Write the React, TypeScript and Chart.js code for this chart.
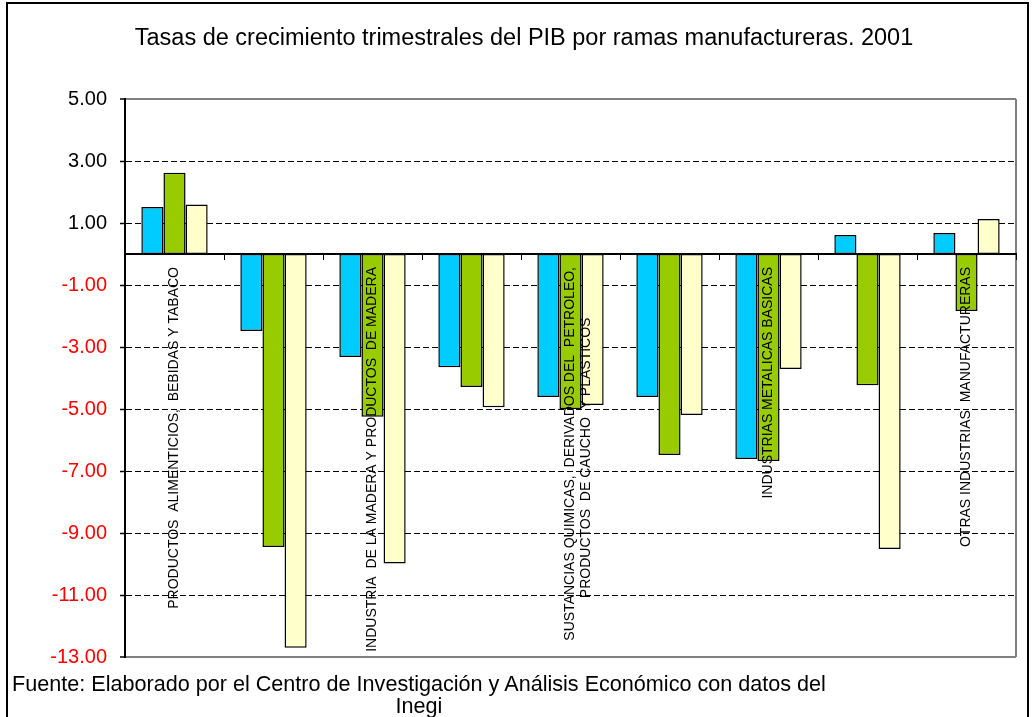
import React, { useEffect, useRef } from 'react';
import { Chart, registerables } from 'chart.js';

Chart.register(...registerables);

const FONT = "'Liberation Sans', Arial, Helvetica, sans-serif";

const titleText = 'Tasas de crecimiento trimestrales del PIB por ramas manufactureras. 2001';
const footerLine1 = 'Fuente: Elaborado por el Centro de Investigación y Análisis Económico con datos del';
const footerLine2 = 'Inegi';

const categories = [
  'PRODUCTOS ALIMENTICIOS, BEBIDAS Y TABACO',
  'TEXTILES, PRENDAS DE VESTIR E INDUSTRIA DEL CUERO',
  'INDUSTRIA DE LA MADERA Y PRODUCTOS DE MADERA',
  'PAPEL, PRODUCTOS DE PAPEL, IMPRENTAS Y EDITORIALES',
  'SUSTANCIAS QUIMICAS, DERIVADOS DEL PETROLEO, PRODUCTOS DE CAUCHO Y PLASTICOS',
  'PRODUCTOS DE MINERALES NO METALICOS',
  'INDUSTRIAS METALICAS BASICAS',
  'PRODUCTOS METALICOS, MAQUINARIA Y EQUIPO',
  'OTRAS INDUSTRIAS MANUFACTURERAS',
];

// Labels shown on the axis (every other category is skipped, as in the original)
const tickLabels: (string | string[])[] = [
  'PRODUCTOS  ALIMENTICIOS,  BEBIDAS Y TABACO',
  '',
  'INDUSTRIA  DE LA MADERA Y PRODUCTOS  DE MADERA',
  '',
  ['SUSTANCIAS QUIMICAS,  DERIVADOS DEL  PETROLEO,', 'PRODUCTOS  DE CAUCHO  Y PLASTICOS             '],
  '',
  'INDUSTRIAS METALICAS BASICAS',
  '',
  'OTRAS INDUSTRIAS  MANUFACTURERAS',
];

const seriesNames = ['I Trimestre', 'II Trimestre', 'III Trimestre'];
const seriesColors = ['#00CCFF', '#99CC00', '#FFFFCC'];

const q1 = [1.52, -2.48, -3.32, -3.65, -4.61, -4.61, -6.61, 0.61, 0.68];
const q2 = [2.62, -9.45, -5.25, -4.29, -5.0, -6.48, -6.68, -4.23, -1.84];
const q3 = [1.6, -12.7, -9.98, -4.94, -4.87, -5.19, -3.71, -9.52, 1.13];

const yMin = -13;
const yMax = 5;
const yStep = 2;

const plotFrame = {
  id: 'plotFrame',
  beforeDatasetsDraw(chart: any) {
    const { ctx, chartArea: a } = chart;
    ctx.save();
    ctx.strokeStyle = '#808080';
    ctx.lineWidth = 2;
    ctx.beginPath();
    ctx.moveTo(a.right, a.top);
    ctx.lineTo(a.right, a.bottom);
    ctx.stroke();
    ctx.restore();
  },
};

export default function App() {
  const ref = useRef<HTMLCanvasElement | null>(null);

  useEffect(() => {
    if (!ref.current) return;
    Chart.defaults.font.family = FONT;
    const series = [q1, q2, q3];
    const chart = new Chart(ref.current, {
      type: 'bar',
      data: {
        labels: categories,
        datasets: series.map((d, i) => ({
          label: seriesNames[i],
          data: d,
          backgroundColor: seriesColors[i],
          borderColor: '#000000',
          borderWidth: 1.5,
          borderSkipped: false,
          categoryPercentage: 0.67,
          barPercentage: 1.0,
        })),
      },
      options: {
        responsive: false,
        animation: false,
        layout: { padding: { left: 32, right: 16, top: 0, bottom: 60 } },
        plugins: {
          legend: { display: false },
          tooltip: { enabled: false },
          title: {
            display: true,
            text: titleText,
            color: '#000000',
            font: { size: 23.5, weight: 'normal', family: FONT, lineHeight: 1.2 },
            padding: { top: 24, bottom: 46.8 },
          },
        },
        scales: {
          x: {
            position: { y: 0 } as any,
            grid: {
              display: true,
              drawOnChartArea: false,
              drawTicks: true,
              tickLength: 5,
              color: '#000000',
              tickColor: '#000000',
              offset: true,
              z: 1,
            },
            border: { display: true, color: '#000000', width: 2, z: 1 },
            ticks: {
              autoSkip: false,
              minRotation: 90,
              maxRotation: 90,
              padding: 8,
              z: 1,
              color: '#000000',
              font: { size: 14, family: FONT, lineHeight: 1.15 },
              callback: (_v: any, i: number) => tickLabels[i],
            },
          },
          y: {
            min: yMin,
            max: yMax,
            afterFit: (scale: any) => {
              scale.width = 93;
            },
            grid: {
              display: true,
              drawTicks: true,
              tickLength: 5,
              tickColor: '#000000',
              tickWidth: 1.5,
              color: (ctx: any) =>
                ctx.tick && (ctx.tick.value === yMax || ctx.tick.value === yMin) ? '#808080' : '#000000',
              lineWidth: (ctx: any) =>
                ctx.tick && (ctx.tick.value === yMax || ctx.tick.value === yMin) ? 2 : 1,
            },
            border: {
              display: true,
              color: '#000000',
              width: 2,
              dash: (ctx: any) =>
                ctx.tick && (ctx.tick.value === yMax || ctx.tick.value === yMin) ? [] : [6, 3],
            } as any,
            ticks: {
              stepSize: yStep,
              padding: 13,
              color: (ctx: any) => (ctx.tick && ctx.tick.value < 0 ? '#FF0000' : '#000000'),
              font: { size: 20, family: FONT },
              callback: (v: any) => Number(v).toFixed(2),
            },
          },
        },
      },
      plugins: [plotFrame],
    } as any);
    return () => chart.destroy();
  }, []);

  return (
    <div style={{ position: 'absolute', left: 0, top: 0, width: 1032, height: 717, overflow: 'hidden', background: '#fff' }}>
      <canvas ref={ref} width={1032} height={717} style={{ position: 'absolute', left: 0, top: 0 }} />
      <div
        style={{
          position: 'absolute',
          left: 6,
          top: 2,
          width: 1023,
          height: 715,
          boxSizing: 'border-box',
          borderTop: '2px solid #000',
          borderLeft: '2px solid #000',
          borderRight: '2px solid #000',
          pointerEvents: 'none',
        }}
      />
      <div
        style={{
          position: 'absolute',
          left: 0,
          top: 673,
          width: 838,
          textAlign: 'center',
          fontFamily: FONT,
          fontSize: 21.6,
          lineHeight: '22px',
          color: '#000',
          whiteSpace: 'nowrap',
        }}
      >
        {footerLine1}
        <br />
        {footerLine2}
      </div>
    </div>
  );
}
